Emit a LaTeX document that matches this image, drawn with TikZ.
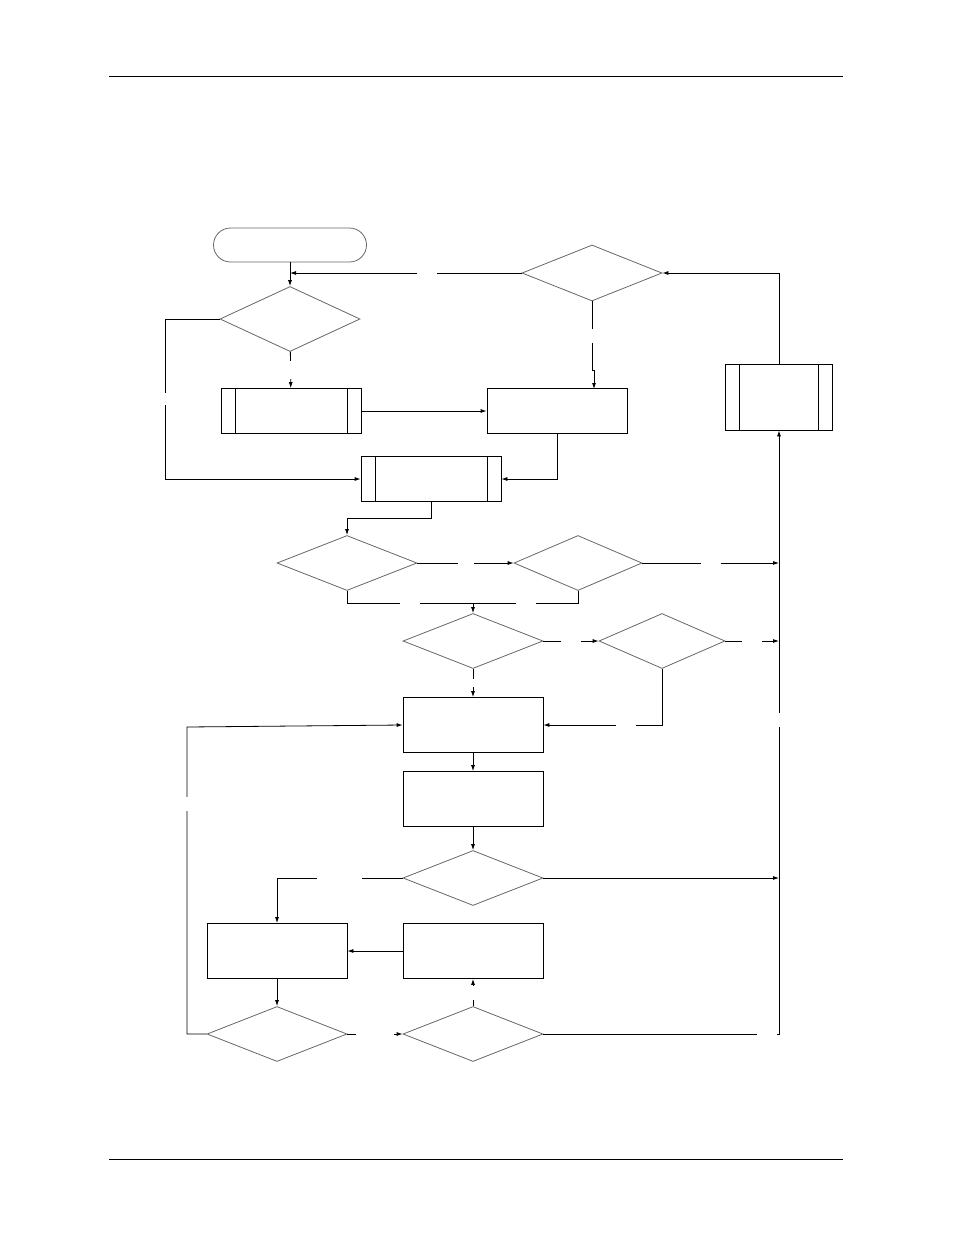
\documentclass[tikz,border=0pt]{standalone}
\usetikzlibrary{shapes.geometric,arrows.meta}
\tikzset{
 dec/.style={shape=diamond,draw=black!60,minimum width=140pt,minimum height=55pt,inner sep=0pt,aspect=2.5},
 box/.style={shape=rectangle,draw=black,minimum width=140pt,minimum height=55pt,inner sep=0pt},
 sub/.style={box,path picture={
   \draw ([xshift=14pt]path picture bounding box.north west) -- ([xshift=14pt]path picture bounding box.south west);
   \draw ([xshift=-14pt]path picture bounding box.north east) -- ([xshift=-14pt]path picture bounding box.south east);}},
 gap/.style={fill=white,inner sep=0pt,minimum width=20pt,minimum height=14pt},
 lnk/.style={-{Latex[length=6pt,width=4pt]}}
}
\begin{document}
\begin{tikzpicture}[x=1pt,y=-1pt,line width=0.8pt]
 \useasboundingbox (0,0) rectangle (954,1235);
 \draw (109,76) -- (843,76);
 \draw (109,1159) -- (843,1159);
 % shapes
 \node (start) at (290,245) [shape=rectangle,rounded corners=17pt,draw=black!60,minimum width=153pt,minimum height=34pt] {};
 \node (chk a) at (290,319) [dec,minimum height=65pt] {};
 \node (chk b) at (592,273) [dec,minimum height=56pt] {};
 \node (sub a) at (291,411) [sub,minimum height=45pt] {};
 \node (prc a) at (557,411) [box,minimum height=45pt] {};
 \node (sub b) at (431,479) [sub,minimum height=45pt] {};
 \node (sub c) at (779,397) [sub,minimum width=107pt,minimum height=66pt] {};
 \node (chk c) at (347,563) [dec] {};
 \node (chk d) at (578,563) [dec,minimum width=128pt] {};
 \node (chk e) at (473,641) [dec] {};
 \node (chk f) at (662,641) [dec,minimum width=126pt] {};
 \node (prc b) at (473,725) [box] {};
 \node (prc c) at (473,799) [box] {};
 \node (chk g) at (473,878) [dec] {};
 \node (prc d) at (277,951) [box] {};
 \node (prc e) at (473,951) [box] {};
 \node (chk h) at (277,1034) [dec] {};
 \node (chk i) at (473,1034) [dec] {};
 \coordinate (bus) at (779,563);
 % connectors
 \draw[lnk] (start) -- (chk a);
 \draw[lnk] (chk b.west) -- node[gap,pos=0.41]{} (290,273);
 \draw[lnk] (chk a) -- node[gap,pos=0.5,minimum height=18pt]{} (sub a);
 \draw[lnk] (chk a.west) -- (165,319) -- node[gap,minimum height=12pt,minimum width=6pt]{} (165,479) -- (sub b.west);
 \draw[lnk] (sub a) -- (prc a);
 \draw[lnk] (chk b.south) -- node[gap,minimum width=6pt]{} (592,370) -- (594,370) -- (594,389);
 \draw[lnk] (prc a.south) -- (557,479) -- (sub b.east);
 \draw[lnk] (sub b.south) -- (431,518) -- (347,518) -- (chk c.north);
 \draw[lnk] (chk c.east) -- node[gap,minimum width=16pt]{} (chk d.west);
 \draw[lnk] (chk d.east) -- node[gap]{} (bus);
 \draw (chk c.south) -- (347,603) -- node[gap]{} (473,603);
 \draw (chk d.south) -- (578,603) -- node[gap]{} (473,603);
 \draw[lnk] (473,603) -- (chk e.north);
 \draw[lnk] (chk e.east) -- node[gap]{} (chk f.west);
 \draw[lnk] (chk f.east) -- node[gap]{} (779,641);
 \draw[lnk] (chk e.south) -- node[gap,minimum width=6pt,minimum height=8pt]{} (prc b.north);
 \draw[lnk] (chk f.south) -- (662,725) -- node[gap,pos=0.3]{} (prc b.east);
 \draw[lnk] (prc b) -- (prc c);
 \draw[lnk] (prc c) -- (chk g);
 \draw[lnk] (chk g.west) -- node[gap,minimum width=45pt,pos=0.5]{} (277,878) -- (prc d.north);
 \draw[lnk] (chk g.east) -- (779,878);
 \draw[lnk] (prc e) -- (prc d);
 \draw[lnk] (prc d) -- (chk h);
 \draw[lnk] (chk h.west) -- (187,1034) -- node[gap,minimum width=6pt,pos=0.75]{} (187,727) -- (prc b.west);
 \draw[lnk] (chk h.east) -- node[gap,minimum width=38pt]{} (chk i.west);
 \draw[lnk] (chk i.north) -- node[gap,minimum width=6pt]{} (prc e.south);
 \draw[lnk] (chk i.east) -- node[gap,pos=0.95]{} (779,1034) -- node[gap,minimum width=6pt,minimum height=14pt,pos=0.52]{} (sub c.south);
 \draw[lnk] (sub c.north) -- (779,273) -- (chk b.east);
\end{tikzpicture}
\end{document}
